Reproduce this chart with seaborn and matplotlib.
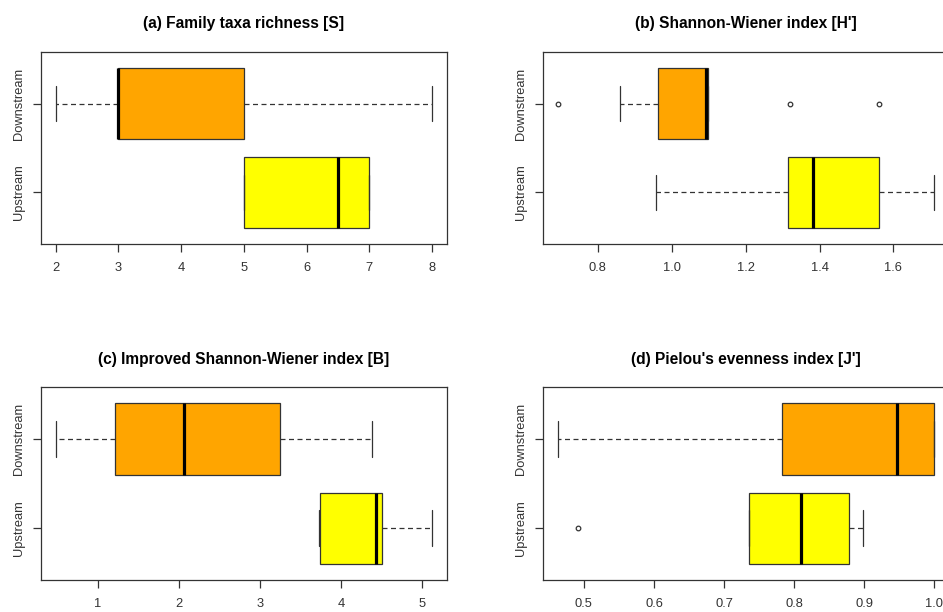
import matplotlib
matplotlib.use("Agg")
import matplotlib.pyplot as plt
import pandas as pd
import seaborn as sns

# Sampling sites and their fill colours
sites = ["Downstream", "Upstream"]
site_colors = ["#FFA500", "#FFFF00"]

titles = [
    "(a) Family taxa richness [S]",
    "(b) Shannon-Wiener index [H']",
    "(c) Improved Shannon-Wiener index [B]",
    "(d) Pielou's evenness index [J']",
]

# Index values per site
richness_down = [2, 3, 3, 5, 8]
richness_up = [5, 5, 6.5, 7, 7]
shannon_down = [0.693, 0.86, 0.962, 0.962, 1.092, 1.099, 1.099, 1.319, 1.561]
shannon_up = [0.958, 1.316, 1.383, 1.561, 1.711]
improved_down = [0.479, 1.21, 2.065, 3.24, 4.38]
improved_up = [3.725, 3.74, 4.432, 4.506, 5.118]
pielou_down = [0.4635, 0.7823, 0.947, 1.0, 1.0]
pielou_up = [0.492, 0.735, 0.81, 0.878, 0.8986]

# Axis ticks per panel
xticks_a = [2, 3, 4, 5, 6, 7, 8]
xticks_b = [0.8, 1.0, 1.2, 1.4, 1.6]
xticks_c = [1, 2, 3, 4, 5]
xticks_d = [0.5, 0.6, 0.7, 0.8, 0.9, 1.0]

sns.set_style("white")
plt.rcParams["font.family"] = ["Liberation Sans", "DejaVu Sans"]

EDGE = "#333333"
TEXT = "#333333"

fig = plt.figure(figsize=(9.43, 6.12), dpi=100)
W = 0.4309
H_top = (0.915, 0.6013)
H_bot = (0.3672, 0.0523)
positions = [
    (0.0432, H_top), (0.576, H_top),
    (0.0432, H_bot), (0.576, H_bot),
]

panels = [
    (richness_down, richness_up, xticks_a, "{:.0f}"),
    (shannon_down, shannon_up, xticks_b, "{:.1f}"),
    (improved_down, improved_up, xticks_c, "{:.0f}"),
    (pielou_down, pielou_up, xticks_d, "{:.1f}"),
]


def draw_panel(ax, down, up, ticks, fmt, title):
    df = pd.DataFrame({
        "site": [sites[0]] * len(down) + [sites[1]] * len(up),
        "value": list(down) + list(up),
    })
    sns.boxplot(
        data=df, x="value", y="site", hue="site",
        order=sites, hue_order=sites, palette=site_colors,
        saturation=1, width=0.8, whis=1.5, linecolor=EDGE,
        linewidth=0.9, legend=False, ax=ax,
        boxprops={"edgecolor": EDGE, "linewidth": 0.9},
        medianprops={"color": "black", "linewidth": 2.3,
                     "solid_capstyle": "butt"},
        whiskerprops={"color": EDGE, "linewidth": 0.9,
                      "linestyle": (0, (4, 2.8))},
        capprops={"color": EDGE, "linewidth": 0.9},
        flierprops={"marker": "o", "markersize": 3.3,
                    "markerfacecolor": "none", "markeredgecolor": EDGE,
                    "markeredgewidth": 0.9},
    )
    vals = list(down) + list(up)
    lo, hi = min(vals), max(vals)
    pad = 0.04 * (hi - lo)
    ax.set_xlim(lo - pad, hi + pad)
    ax.set_ylim(1.58, -0.58)

    ax.set_xticks(ticks)
    ax.set_xticklabels([fmt.format(t) for t in ticks])
    ax.set_yticks([0, 1])
    ax.set_yticklabels(sites, rotation=90, va="center")
    ax.set_xlabel("")
    ax.set_ylabel("")
    ax.tick_params(axis="both", direction="out", length=5.5, width=0.9,
                   color=EDGE, labelcolor=TEXT, labelsize=9.3,
                   bottom=True, left=True, top=False, right=False)
    ax.tick_params(axis="x", pad=7.5)
    ax.tick_params(axis="y", pad=6)
    for s in ax.spines.values():
        s.set_visible(True)
        s.set_color(EDGE)
        s.set_linewidth(0.9)
    ax.set_title(title, fontsize=11.2, fontweight="bold", pad=17,
                 color="black")


for (left, (top, bottom)), (down, up, ticks, fmt), title in zip(positions, panels, titles):
    ax = fig.add_axes([left, bottom, W, top - bottom])
    draw_panel(ax, down, up, ticks, fmt, title)

fig.savefig("out.png", dpi=100)
